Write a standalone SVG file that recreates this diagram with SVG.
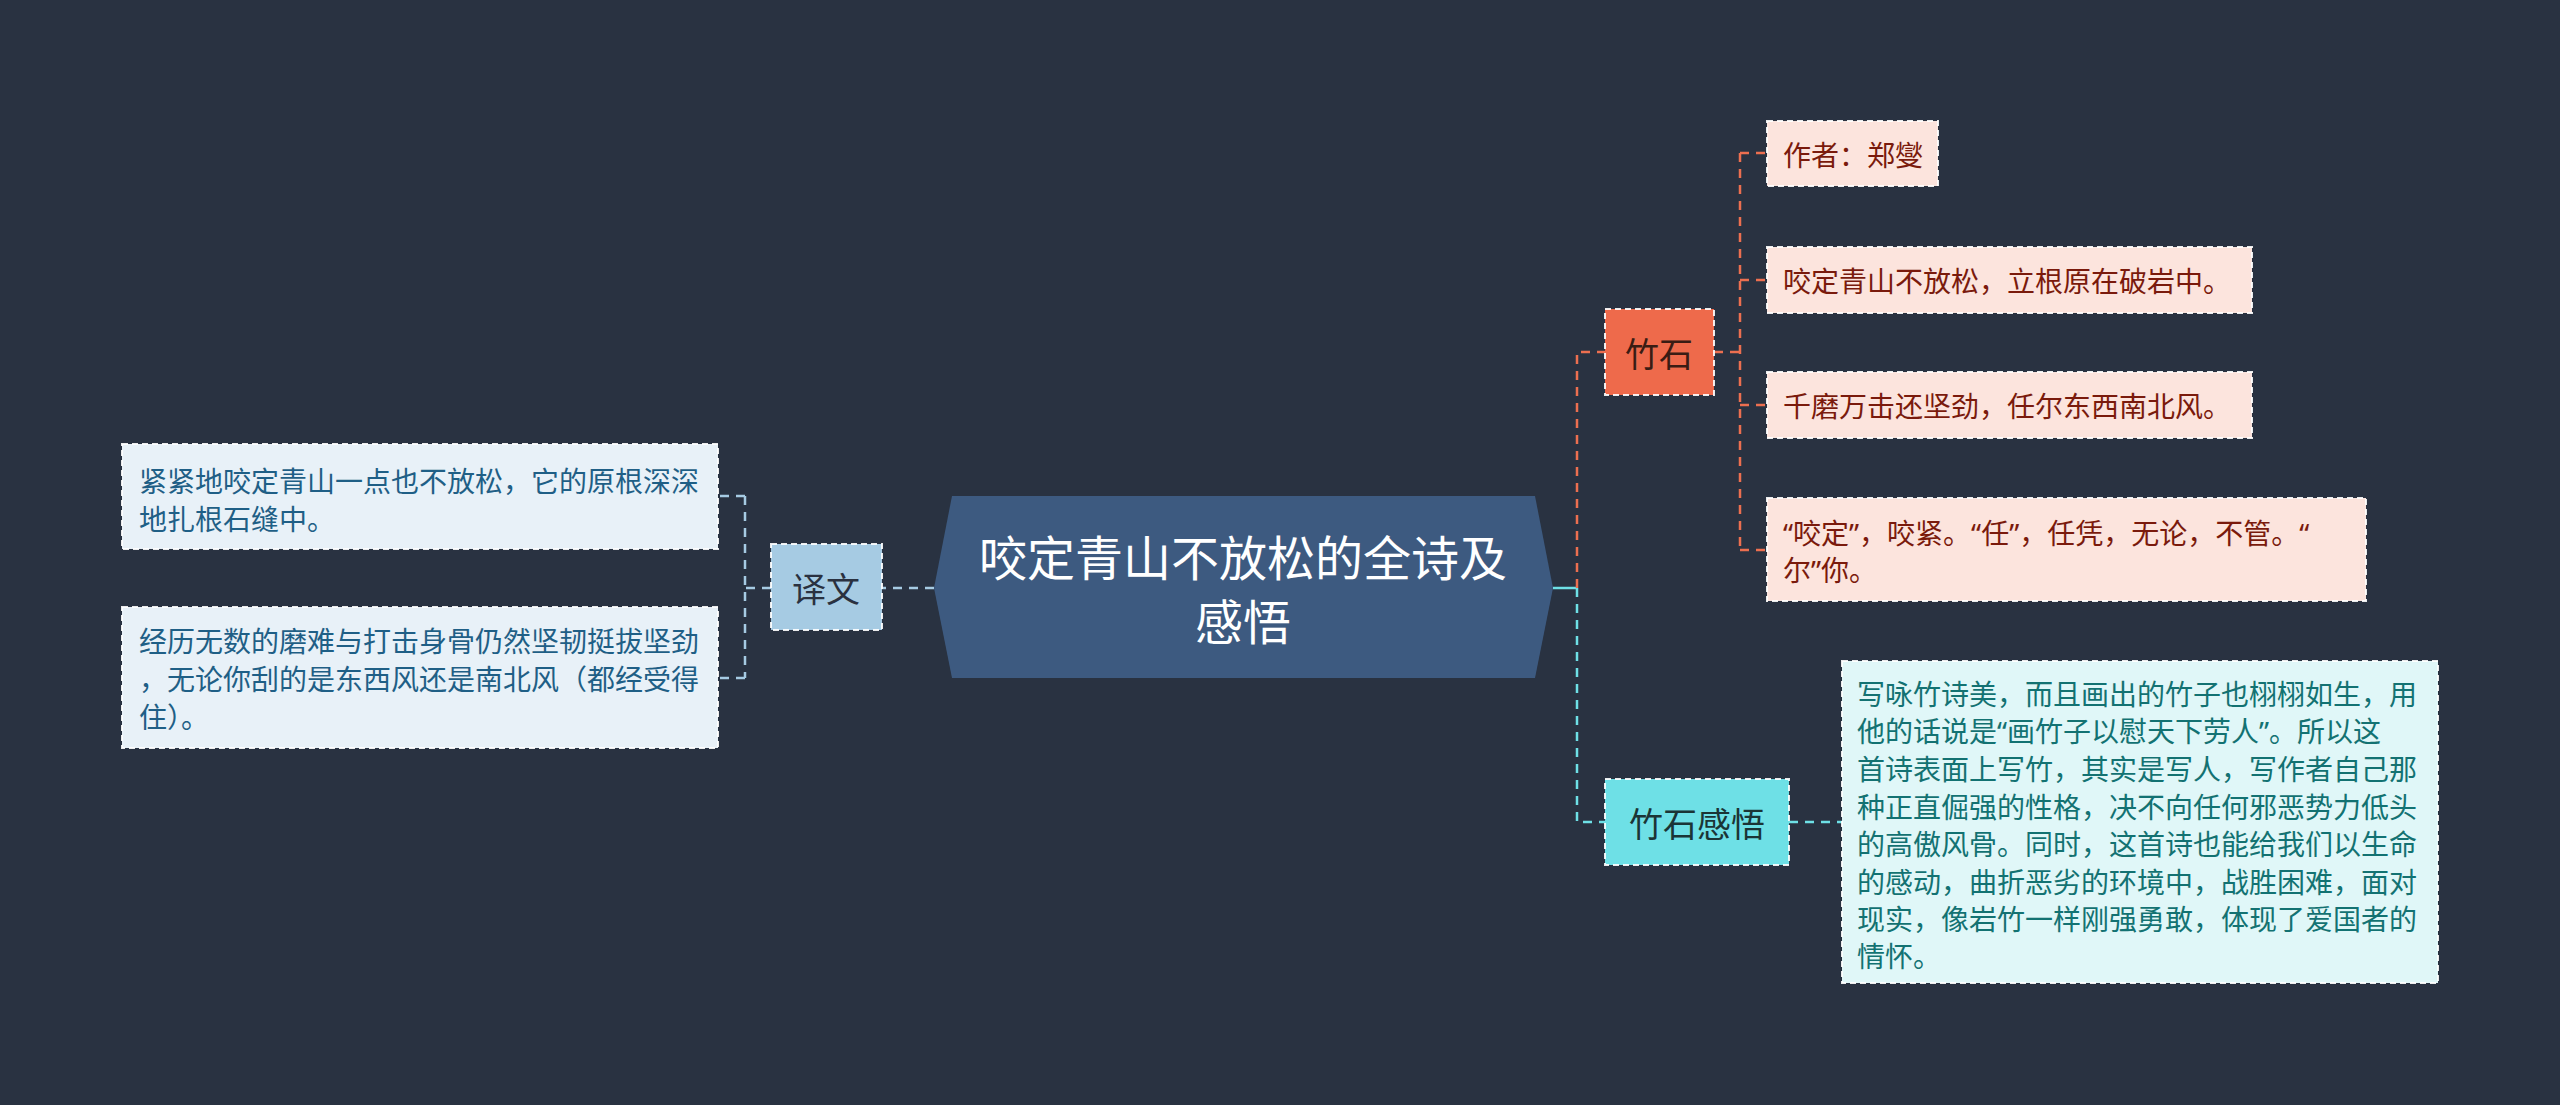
<svg xmlns="http://www.w3.org/2000/svg" width="2560" height="1105" viewBox="0 0 2560 1105">
<style>
text{font-family:"Noto Sans CJK SC","Noto Sans",sans-serif;dominant-baseline:central}
.box{stroke:#ffffff;stroke-opacity:0.9;stroke-width:2;stroke-dasharray:6 4}
.c{fill:none;stroke-width:2.5;stroke-dasharray:9 7}
.blue{stroke:#a6cbe3}
.org{stroke:#ec6f50}
.cyan{stroke:#6ee0e6}
.lt{font-size:28px}
.q{font-family:"Noto Sans","Noto Sans CJK SC",sans-serif}
</style>
<rect width="2560" height="1105" fill="#293241"/>
<g id="connectors">
<path class="c blue" d="M934,588 H882"/>
<path class="c blue" d="M771,588 H745"/>
<path class="c blue" d="M745,496 V678 M745,496 H718 M745,678 H718"/>
<path d="M1553,588 H1577" fill="none" stroke="#6ee0e6" stroke-width="2.5"/>
<path class="c org" d="M1577,588 V352 H1605"/>
<path class="c cyan" d="M1577,588 V822 H1605"/>
<path class="c org" d="M1714,352 H1740 M1740,153 V550 M1740,153 H1767 M1740,280 H1767 M1740,405 H1767 M1740,550 H1767"/>
<path class="c cyan" d="M1789,822 H1842"/>
</g>
<g id="root">
<polygon points="952,496 1535,496 1553,588 1535,678 952,678 934,588" fill="#3d5a80"/>
<text x="1243" y="555" font-size="48" fill="#ffffff" text-anchor="middle">咬定青山不放松的全诗及</text>
<text x="1243" y="619" font-size="48" fill="#ffffff" text-anchor="middle">感悟</text>
</g>
<g id="yiwen">
<rect class="box" x="771" y="544" width="111" height="86" fill="#a6cbe3"/>
<text x="826" y="587" font-size="34" fill="#2a3140" text-anchor="middle">译文</text>
</g>
<g id="yiwen-1">
<rect class="box" x="122" y="444" width="596" height="105" fill="#e8f1f8"/>
<text class="lt" fill="#1f5f86"><tspan x="139" y="480">紧紧地咬定青山一点也不放松，它的原根深深</tspan><tspan x="139" y="518">地扎根石缝中。</tspan></text>
</g>
<g id="yiwen-2">
<rect class="box" x="122" y="607" width="596" height="141" fill="#e8f1f8"/>
<text class="lt" fill="#1f5f86"><tspan x="139" y="640">经历无数的磨难与打击身骨仍然坚韧挺拔坚劲</tspan><tspan x="139" y="678">，无论你刮的是东西风还是南北风（都经受得</tspan><tspan x="139" y="716">住）。</tspan></text>
</g>
<g id="zhushi">
<rect class="box" x="1605" y="309" width="109" height="86" fill="#ee6a4b"/>
<text x="1659" y="352" font-size="34" fill="#3a1c14" text-anchor="middle">竹石</text>
</g>
<g id="zhushi-1">
<rect class="box" x="1767" y="121" width="171" height="65" fill="#fce4dd"/>
<text class="lt" x="1783" y="154" fill="#7a1a0c">作者：郑燮</text>
</g>
<g id="zhushi-2">
<rect class="box" x="1767" y="247" width="485" height="66" fill="#fce4dd"/>
<text class="lt" x="1783" y="280" fill="#7a1a0c">咬定青山不放松，立根原在破岩中。</text>
</g>
<g id="zhushi-3">
<rect class="box" x="1767" y="372" width="485" height="66" fill="#fce4dd"/>
<text class="lt" x="1783" y="405" fill="#7a1a0c">千磨万击还坚劲，任尔东西南北风。</text>
</g>
<g id="zhushi-4">
<rect class="box" x="1767" y="498" width="599" height="103" fill="#fce4dd"/>
<text class="lt q" fill="#7a1a0c"><tspan x="1783" y="533">“咬定”，咬紧。“任”，任凭，无论，不管。“</tspan><tspan x="1783" y="570">尔”你。</tspan></text>
</g>
<g id="ganwu">
<rect class="box" x="1605" y="779" width="184" height="86" fill="#6ee0e6"/>
<text x="1697" y="822" font-size="34" fill="#1b3536" text-anchor="middle">竹石感悟</text>
</g>
<g id="ganwu-1">
<rect class="box" x="1842" y="661" width="596" height="322" fill="#e0f7f8"/>
<text class="lt q" fill="#137272"><tspan x="1857" y="694">写咏竹诗美，而且画出的竹子也栩栩如生，用</tspan><tspan x="1857" y="731">他的话说是“画竹子以慰天下劳人”。所以这</tspan><tspan x="1857" y="769">首诗表面上写竹，其实是写人，写作者自己那</tspan><tspan x="1857" y="807">种正直倔强的性格，决不向任何邪恶势力低头</tspan><tspan x="1857" y="844">的高傲风骨。同时，这首诗也能给我们以生命</tspan><tspan x="1857" y="882">的感动，曲折恶劣的环境中，战胜困难，面对</tspan><tspan x="1857" y="919">现实，像岩竹一样刚强勇敢，体现了爱国者的</tspan><tspan x="1857" y="956">情怀。</tspan></text>
</g>
</svg>
